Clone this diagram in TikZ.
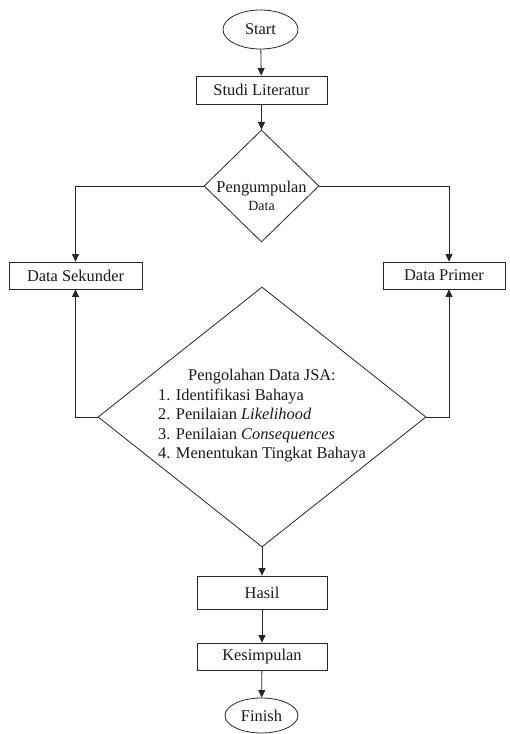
\documentclass[tikz,border=0pt]{standalone}
\usepackage{fontspec}
\setmainfont{Liberation Serif}
\usetikzlibrary{shapes.geometric,arrows.meta}
\tikzset{
  base/.style={draw=black!85, line width=0.8pt, inner sep=0pt, text=black!90,
    font=\fontsize{16.4}{19.5}\selectfont},
  procbox/.style={base, rectangle},
  term/.style={base, ellipse},
  decide/.style={base, diamond},
  label/.style={text=black!90, font=\fontsize{16.4}{19.5}\selectfont, inner sep=0pt},
  link/.style={draw=black!85, line width=0.8pt, -{Triangle[length=7.5pt,width=7pt]}},
  plain/.style={draw=black!85, line width=0.8pt}
}
\begin{document}
\begin{tikzpicture}[x=1pt,y=-1pt]
\useasboundingbox (0,0) rectangle (509,734);

% terminals and process boxes
\node[term, minimum width=75pt, minimum height=39pt] (start) at (260.5,29.5) {Start};
\node[procbox, minimum width=131pt, minimum height=28pt] (studi) at (261.5,90) {Studi Literatur};
\node[decide, minimum width=115pt, minimum height=112pt] (kumpul) at (261.5,186) {};
\node[label, align=center] (kumpultxt) at (261.5,196)
  {Pengumpulan\\[-1pt]{\fontsize{14}{16}\selectfont Data}};
\node[procbox, minimum width=133pt, minimum height=27pt] (sek) at (75.5,275.5) {Data Sekunder};
\node[procbox, minimum width=122pt, minimum height=27pt] (prim) at (444,275.5) {Data Primer};
\node[decide, minimum width=328pt, minimum height=260pt] (olah) at (262,417) {};
\node[label] (olahtxt) at (262,416) {%
  \begin{tabular}{@{}l@{}}
  \multicolumn{1}{@{}c@{}}{Pengolahan Data JSA:}\\
  1. Identifikasi Bahaya\\
  2. Penilaian \textit{Likelihood}\\
  3. Penilaian \textit{Consequences}\\
  4. Menentukan Tingkat Bahaya
  \end{tabular}};
\node[procbox, minimum width=130pt, minimum height=33pt] (hasil) at (262,592.5) {Hasil};
\node[procbox, minimum width=130pt, minimum height=27pt] (simpul) at (262,656.5) {Kesimpulan};
\node[term, minimum width=73pt, minimum height=35pt] (finish) at (261.5,715.5) {Finish};

% main flow
\draw[link] (start) -- (studi);
\draw[link] (studi) -- (kumpul);
\draw[link] (kumpul.west) -| (sek.north);
\draw[link] (kumpul.east) -| ([xshift=5pt]prim.north);
\draw[link] (olah.west) -| (sek.south);
\draw[link] (olah.east) -| ([xshift=5pt]prim.south);
\draw[link] (olah.south) -- (hasil.north -| olah.south);
\draw[link] (hasil) -- (simpul);
\draw[link] (simpul) -- (finish);
\end{tikzpicture}
\end{document}
